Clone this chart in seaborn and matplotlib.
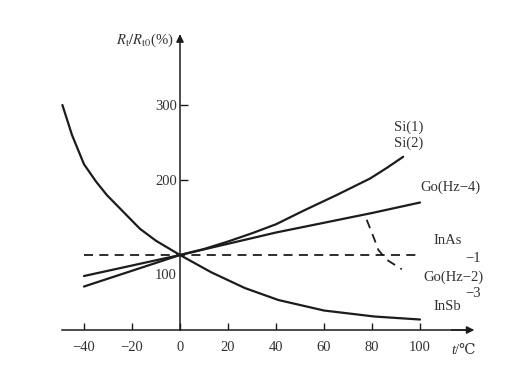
import matplotlib
matplotlib.use("Agg")
import matplotlib.pyplot as plt
import seaborn as sns

# ---- data ----
insb_t = [-49, -45, -40, -35, -30.5, -16.7, -10, 0, 13, 27, 41, 60, 81, 100]
insb_r = [300, 260, 221, 198, 180, 135, 119, 100, 77, 56, 40, 26, 18, 14]

si_t = [-40, -20, 0, 10, 20, 30, 40, 51.4, 65.3, 79.2, 86.1, 93]
si_r = [58, 79, 100, 108, 118, 129, 141, 159, 180, 202, 216, 231]

go4_t = [-40, 0, 20, 40, 60, 80, 100]
go4_r = [72, 100, 115, 130, 143, 156, 170]

inas_t = [-40, 100]
inas_r = [100, 100]

go2_t = [77.8, 81, 82.6, 86, 92.4]
go2_r = [147, 121, 107, 94, 81]

x_ticks = [-40, -20, 0, 20, 40, 60, 80, 100]
y_ticks = [200, 300]

sns.set_theme(style="white")
plt.rcParams["font.family"] = ["Liberation Serif", "DejaVu Serif"]
plt.rcParams["mathtext.fontset"] = "stix"

ink = "#1c1c1c"
txt = "#333333"

fig = plt.figure(figsize=(5.16, 3.70), dpi=100)
ax = fig.add_axes([0, 0, 1, 1])
ax.set_facecolor("white")

solid = dict(color=ink, linewidth=1.6)
dashed = dict(color=ink, linewidth=1.3, linestyle=(0, (5, 3.5)))

sns.lineplot(x=insb_t, y=insb_r, ax=ax, **solid)
sns.lineplot(x=si_t, y=si_r, ax=ax, **solid)
sns.lineplot(x=go4_t, y=go4_r, ax=ax, **solid)
sns.lineplot(x=inas_t, y=inas_r, ax=ax, **dashed)
sns.lineplot(x=go2_t, y=go2_r, ax=ax, **dashed)

ax.set_xlim(-75, 140)
ax.set_ylim(-53.3, 440)

# axes through the origin
for s in ["top", "right"]:
    ax.spines[s].set_visible(False)
ax.spines["left"].set_position(("data", 0))
ax.spines["bottom"].set_position(("data", 0))
ax.spines["left"].set_bounds(0, 392)
ax.spines["bottom"].set_bounds(-49.3, 120)
for s in ["left", "bottom"]:
    ax.spines[s].set_color(ink)
    ax.spines[s].set_linewidth(1.1)

ax.annotate("", xy=(123.8, 0), xytext=(112, 0),
            arrowprops=dict(arrowstyle="-|>", color=ink, lw=1.1, mutation_scale=11))
ax.annotate("", xy=(0, 398), xytext=(0, 380),
            arrowprops=dict(arrowstyle="-|>", color=ink, lw=1.1, mutation_scale=11))

ax.set_xticks(x_ticks)
ax.set_xticklabels([f"{v}".replace("-", "\u2212") for v in x_ticks])
ax.set_yticks(y_ticks)
ax.set_yticklabels([str(v) for v in y_ticks])
ax.tick_params(axis="x", direction="in", length=5, width=1.0, color=ink,
               pad=8, labelsize=10.5, labelcolor=txt, bottom=True)
ax.tick_params(axis="y", direction="in", length=6, width=1.0, color=ink,
               pad=2, labelsize=10.5, labelcolor=txt, left=True)
ax.grid(False)

ax.annotate("100", xy=(0, 100), xytext=(-3, -20), textcoords="offset pixels",
            ha="right", va="center", fontsize=10.5, color=txt)

# axis titles
ax.text(-2.5, 386.7, r"$R_\mathrm{t}/R_\mathrm{t0}$(%)", ha="right", va="center",
        fontsize=10.5, color=txt)
ax.text(114.6, -26.7, "t", ha="right", va="center", fontsize=10.5, color=txt,
        fontstyle="italic", family=["Liberation Serif"])
ax.text(114.6, -26.7, "/\u2103", ha="left", va="center", fontsize=10.5, color=txt,
        family=["Liberation Serif", "DejaVu Serif", "DejaVu Sans"])

# curve labels
labels = [
    ("Si(1)", 95.4, 270.7),
    ("Si(2)", 95.4, 249.3),
    ("Go(Hz\u22124)", 112.5, 190.7),
    ("InAs", 111.7, 120.0),
    ("\u22121", 122.0, 96.0),
    ("Go(Hz\u22122)", 113.75, 70.7),
    ("\u22123", 122.0, 49.3),
    ("InSb", 111.25, 30.7),
]
for s, x, y in labels:
    ax.text(x, y, s, ha="center", va="center", fontsize=10.5, color=txt)

fig.savefig("out.png", dpi=100, facecolor="white")
